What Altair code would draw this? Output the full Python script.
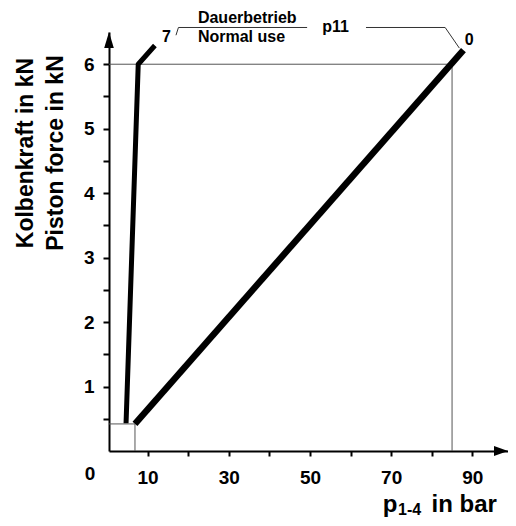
import altair as alt
import pandas as pd

# ---- data ----
# curve "7" (steep line)
line7_p = [4.7, 7.7, 11.8]
line7_f = [0.43, 6.0, 6.29]
# curve "0" (diagonal line)
line0_p = [6.9, 87.8]
line0_f = [0.42, 6.22]

# thin guide segments (start / end in bar and kN)
guide_x = [0.5, 85.0, 0.5, 6.9]
guide_x2 = [85.0, 85.0, 6.9, 6.9]
guide_y = [6.0, 0.0, 0.42, 0.0]
guide_y2 = [6.0, 6.0, 0.42, 0.42]

x_ticks = [10, 20, 30, 40, 50, 60, 70, 80, 90]
y_ticks = [0.5, 1, 1.5, 2, 2.5, 3, 3.5, 4, 4.5, 5, 5.5, 6]

# annotation texts and their anchors (bar, kN)
ann_text = ["7", "0", "Dauerbetrieb", "Normal use", "p11"]
ann_x = [13.55, 88.1, 22.4, 22.4, 53.0]
ann_y = [6.34, 6.30, 6.635, 6.35, 6.505]

# leader lines of the annotation
lead_g = [1, 1, 1, 2, 2, 2]
lead_o = [0, 1, 2, 0, 1, 2]
lead_x = [17.0, 17.6, 49.3, 63.8, 83.3, 86.8]
lead_y = [6.45, 6.57, 6.57, 6.57, 6.57, 6.25]

# x-axis title pieces
xt_text = ["p", "in bar"]
xt_x = [67.94, 79.93]
xt_y = [-0.95, -0.95]
sub_text = ["1-4"]
sub_x = [71.68]
sub_y = [-0.99]

corner_text = ["0"]
corner_x = [-4.18]
corner_y = [-0.45]

X_DOMAIN = [0.5, 98.78]
Y_DOMAIN = [0, 6.5]
FONT = "Liberation Sans"

xscale = alt.Scale(domain=X_DOMAIN, nice=False, zero=False)
yscale = alt.Scale(domain=Y_DOMAIN, nice=False, zero=False)

xaxis = alt.Axis(
    values=x_ticks,
    labelExpr="datum.value % 20 == 10 ? format(datum.value, '.0f') : ''",
    tickSize=5,
    labelPadding=12,
    grid=False,
    labelFlush=False,
    labelOverlap=False,
)
yaxis = alt.Axis(
    values=y_ticks,
    labelExpr="datum.value % 1 == 0 ? format(datum.value, '.0f') : ''",
    tickSize=6,
    labelPadding=9,
    grid=False,
    labelFlush=False,
    labelOverlap=False,
    title=["Kolbenkraft in kN", "Piston force in kN"],
    titleFont=FONT,
    titleFontSize=23,
    titleFontWeight="bold",
    titleColor="black",
    titleAngle=270,
    titleAlign="center",
    titleBaseline="alphabetic",
    titleLineHeight=30,
    titleX=-76.7,
    titleY=120.5,
)


def X(field):
    return alt.X(field, type="quantitative", scale=xscale, axis=xaxis, title=None)


def Y(field):
    return alt.Y(field, type="quantitative", scale=yscale, axis=yaxis)


lines_df = pd.DataFrame(
    {
        "x": line7_p + line0_p,
        "y": line7_f + line0_f,
        "curve": ["7"] * len(line7_p) + ["0"] * len(line0_p),
        "o": list(range(len(line7_p))) + list(range(len(line0_p))),
    }
)

line7 = (
    alt.Chart(lines_df[lines_df.curve == "7"])
    .mark_line(color="black", strokeWidth=5, strokeCap="butt", strokeJoin="round")
    .encode(x=X("x"), y=Y("y"), order="o:Q")
)
line0 = (
    alt.Chart(lines_df[lines_df.curve == "0"])
    .mark_line(color="black", strokeWidth=6.5, strokeCap="butt")
    .encode(x=X("x"), y=Y("y"), order="o:Q")
)

guides_df = pd.DataFrame({"x": guide_x, "x2": guide_x2, "y": guide_y, "y2": guide_y2})
guides = (
    alt.Chart(guides_df)
    .mark_rule(color="#555555", strokeWidth=1)
    .encode(x=X("x"), x2="x2:Q", y=Y("y"), y2="y2:Q")
)

lead_df = pd.DataFrame({"x": lead_x, "y": lead_y, "g": lead_g, "o": lead_o})
leaders = (
    alt.Chart(lead_df)
    .mark_line(color="#333333", strokeWidth=1)
    .encode(x=X("x"), y=Y("y"), detail="g:N", order="o:Q")
)

ann_df = pd.DataFrame({"x": ann_x, "y": ann_y, "t": ann_text})
ann = (
    alt.Chart(ann_df)
    .mark_text(align="left", baseline="alphabetic", font=FONT, fontSize=16,
               fontWeight="bold", color="black")
    .encode(x=X("x"), y=Y("y"), text="t:N")
)

xt_df = pd.DataFrame({"x": xt_x, "y": xt_y, "t": xt_text})
xtitle = (
    alt.Chart(xt_df)
    .mark_text(align="left", baseline="alphabetic", font=FONT, fontSize=24,
               fontWeight="bold", color="black")
    .encode(x=X("x"), y=Y("y"), text="t:N")
)
sub_df = pd.DataFrame({"x": sub_x, "y": sub_y, "t": sub_text})
xsub = (
    alt.Chart(sub_df)
    .mark_text(align="left", baseline="alphabetic", font=FONT, fontSize=16,
               fontWeight="bold", color="black")
    .encode(x=X("x"), y=Y("y"), text="t:N")
)

corner_df = pd.DataFrame({"x": corner_x, "y": corner_y, "t": corner_text})
corner = (
    alt.Chart(corner_df)
    .mark_text(align="center", baseline="alphabetic", font=FONT, fontSize=19,
               fontWeight="bold", color="black")
    .encode(x=X("x"), y=Y("y"), text="t:N")
)

# axis arrow heads at the ends of the axis lines
arrow_up_df = pd.DataFrame({"x": [X_DOMAIN[0]], "y": [Y_DOMAIN[1]]})
arrow_up = (
    alt.Chart(arrow_up_df)
    .mark_point(shape="M0,0L0.6,2L-0.6,2Z", size=256, filled=True, color="black",
                opacity=1, strokeWidth=0)
    .encode(x=X("x"), y=Y("y"))
)
arrow_right_df = pd.DataFrame({"x": [X_DOMAIN[1]], "y": [Y_DOMAIN[0]]})
arrow_right = (
    alt.Chart(arrow_right_df)
    .mark_point(shape="M0,0L-2,0.7L-2,-0.7Z", size=196, filled=True, color="black",
                opacity=1, strokeWidth=0)
    .encode(x=X("x"), y=Y("y"))
)

chart = (
    alt.layer(guides, line7, line0, leaders, ann, xtitle, xsub, corner, arrow_up, arrow_right)
    .properties(
        width=399,
        height=419,
        autosize=alt.AutoSizeParams(type="none"),
        padding={"left": 101, "top": 24, "right": 0, "bottom": 67},
        background="white",
    )
    .configure_axis(
        domainColor="black",
        domainWidth=2,
        tickColor="black",
        tickWidth=2,
        labelFont=FONT,
        labelFontSize=19,
        labelFontWeight="bold",
        labelColor="black",
    )
    .configure_view(stroke="transparent")
)

chart.save("out.html", embed_options={"renderer": "svg", "actions": False})
